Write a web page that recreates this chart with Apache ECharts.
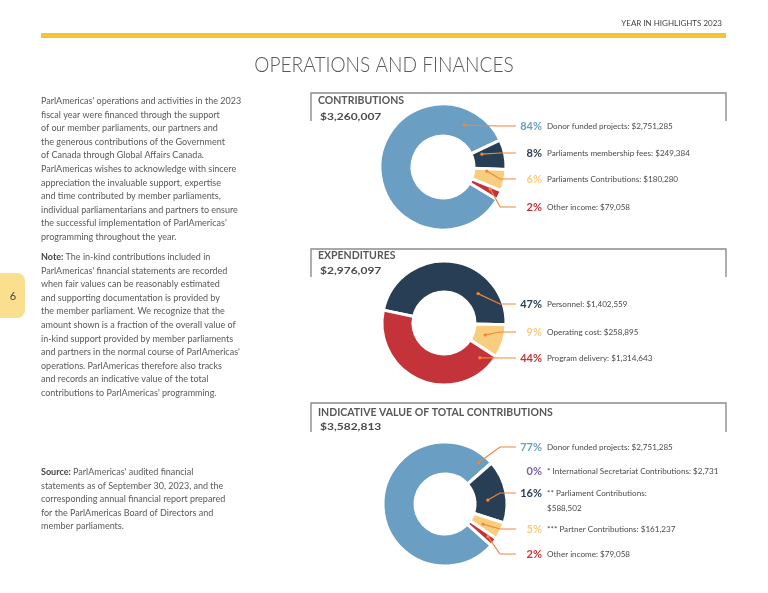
<!DOCTYPE html>
<html>
<head>
<meta charset="utf-8">
<script src="https://cdn.jsdelivr.net/npm/echarts@6/dist/echarts.min.js"></script>
<style>
html,body{margin:0;padding:0;background:#fff;}
#c{width:768px;height:593px;}
</style>
</head>
<body>
<div id="c"></div>
<script>
// ---------------- DATA ----------------
const contribNames = ['Donor funded projects', 'Parliaments membership fees', 'Parliaments Contributions', 'Other income'];
const contribValues = [2751285, 249384, 180280, 79058];

const expNames = ['Personnel', 'Operating cost', 'Program delivery'];
const expValues = [1402559, 258895, 1314643];

const totalNames = ['Donor funded projects', '* International Secretariat Contributions', '** Parliament Contributions', '*** Partner Contributions', 'Other income'];
const totalValues = [2751285, 2731, 588502, 161237, 79058];

const sectionTitles = ['CONTRIBUTIONS', 'EXPENDITURES', 'INDICATIVE VALUE OF TOTAL CONTRIBUTIONS'];

const headerText = 'YEAR IN HIGHLIGHTS 2023';
const pageTitle = 'OPERATIONS AND FINANCES';
const pageNumber = '6';

const para1 = [
  "ParlAmericas' operations and activities in the 2023",
  "fiscal year were financed through the support",
  "of our member parliaments, our partners and",
  "the generous contributions of the Government",
  "of Canada through Global Affairs Canada.",
  "ParlAmericas wishes to acknowledge with sincere",
  "appreciation the invaluable support, expertise",
  "and time contributed by member parliaments,",
  "individual parliamentarians and partners to ensure",
  "the successful implementation of ParlAmericas'",
  "programming throughout the year."
];
const para2 = [
  "{b|Note:} The in-kind contributions included in",
  "ParlAmericas' financial statements are recorded",
  "when fair values can be reasonably estimated",
  "and supporting documentation is provided by",
  "the member parliament. We recognize that the",
  "amount shown is a fraction of the overall value of",
  "in-kind support provided by member parliaments",
  "and partners in the normal course of ParlAmericas'",
  "operations. ParlAmericas therefore also tracks",
  "and records an indicative value of the total",
  "contributions to ParlAmericas' programming."
];
const para3 = [
  "{b|Source:} ParlAmericas' audited financial",
  "statements as of September 30, 2023, and the",
  "corresponding annual financial report prepared",
  "for the ParlAmericas Board of Directors and",
  "member parliaments."
];

// ---------------- STYLE / LAYOUT ----------------
const C_BLUE = '#6A9EC3', C_NAVY = '#273E54', C_YEL = '#F8CD7E', C_RED = '#C5333A', C_PUR = '#7D5FA6';
const LINE_C = '#F0873A';
const TEXT_C = '#58595B';
const FONT = 'Lato, "Open Sans", sans-serif';

const layouts = [
  { values: contribValues, names: contribNames, colors: [C_BLUE, C_NAVY, C_YEL, C_RED],
    center: [443, 167], radius: [31, 63], startAngle: -31,
    labelY: [126, 153, 179, 207],
    anchor: [[0.875, 47], [0.25, 41], [0.15, 44], [0.3, 52]],
    panelTop: 93, panelBottom: 121, titleY: 101, totalY: 117, wrap: [] },
  { values: expValues, names: expNames, colors: [C_NAVY, C_YEL, C_RED],
    center: [444, 323], radius: [31, 62], startAngle: 168,
    labelY: [304, 332, 358],
    anchor: [[0.75, 45], [0.46, 43], [0.07, 50]],
    panelTop: 249, panelBottom: 277, titleY: 256, totalY: 271, wrap: [] },
  { values: totalValues, names: totalNames, colors: [C_BLUE, C_PUR, C_NAVY, C_YEL, C_RED],
    center: [445, 504], radius: [30, 62], startAngle: -42,
    labelY: [447, 471, 493, 529, 554],
    anchor: [[0.965, 53], [0.5, 45], [0.61, 43], [0.62, 43], [0.4, 54]],
    panelTop: 403, panelBottom: 432, titleY: 413, totalY: 427, wrap: [2] }
];

const LABEL_X = 518, PCT_W = 24, LINE_END = 516, LINE_H = 15;

function fmtMoney(v) { return '$' + v.toLocaleString('en-US'); }
function sum(a) { return a.reduce((s, v) => s + v, 0); }

function anchorPoints(L) {
  const total = sum(L.values);
  let acc = 0;
  return L.values.map((v, i) => {
    const a0 = L.startAngle - 360 * acc / total;
    const span = 360 * v / total;
    acc += v;
    const f = L.anchor[i][0], r = L.anchor[i][1];
    const a = (a0 - f * span) * Math.PI / 180;
    return [L.center[0] + r * Math.cos(a), L.center[1] - r * Math.sin(a)];
  });
}

const graphics = [];

// header
graphics.push({ type: 'text', x: 722, y: 23, style: { text: headerText, font: '8px ' + FONT, fill: '#444', align: 'right', verticalAlign: 'middle' } });
graphics.push({ type: 'rect', shape: { x: 41, y: 33, width: 685, height: 5 }, style: { fill: '#F6C331' } });
graphics.push({ type: 'text', x: 384, y: 65, scaleX: 0.89, style: { text: pageTitle, font: '300 21.5px ' + FONT, fill: '#595959', align: 'center', verticalAlign: 'middle' } });

// page tab
graphics.push({ type: 'rect', shape: { x: -10, y: 273, width: 35, height: 45, r: 8 }, style: { fill: '#F9DF8E' } });
graphics.push({ type: 'text', x: 13, y: 296, style: { text: pageNumber, font: '11px ' + FONT, fill: '#444', align: 'center', verticalAlign: 'middle' } });

// paragraphs
function para(lines, yFirst) {
  graphics.push({ type: 'text', x: 41, y: yFirst - 6.8, style: {
    text: lines.join('\n'), font: '9px ' + FONT, fill: TEXT_C, lineHeight: 13.6,
    align: 'left', verticalAlign: 'top',
    rich: { b: { fontWeight: 'bold', fontSize: 9, fontFamily: 'Lato', fill: '#444', lineHeight: 13.6 } }
  } });
}
para(para1, 101);
para(para2, 257);
para(para3, 472);

// panels + titles + totals + label lines + dots
layouts.forEach((L, si) => {
  graphics.push({ type: 'polyline', shape: { points: [[311, L.panelBottom], [311, L.panelTop], [726, L.panelTop], [726, L.panelBottom]] },
    style: { stroke: '#8C8C8C', lineWidth: 1.4, fill: null } });
  graphics.push({ type: 'text', x: 318, y: L.titleY, style: { text: sectionTitles[si], font: 'bold 10.5px ' + FONT, fill: '#585858', verticalAlign: 'middle' } });
  graphics.push({ type: 'text', x: 320, y: L.totalY, scaleX: 1.2, style: { text: fmtMoney(sum(L.values)), font: 'bold 10px ' + FONT, fill: '#4a4a4a', verticalAlign: 'middle' } });
  const pts = anchorPoints(L);
  const total = sum(L.values);
  pts.forEach((p, i) => {
    if (L.values[i] / total * 100 < 1) return;
    const y = L.labelY[i];
    const ex = Math.max(p[0] + 10, 500);
    graphics.push({ type: 'polyline', shape: { points: [[p[0], p[1]], [ex, y], [LINE_END, y]] },
      style: { stroke: LINE_C, lineWidth: 1.2, fill: null }, z: 10 });
    graphics.push({ type: 'circle', shape: { cx: p[0], cy: p[1], r: 1.7 }, style: { fill: LINE_C }, z: 11 });
  });
});

function makeSeries(L) {
  const total = sum(L.values);
  const rich = {
    t: { fontFamily: 'Lato', fontSize: 8.1, color: '#4a4a4a', align: 'right', padding: [0, 0, 0, 5], lineHeight: LINE_H },
    q: { fontFamily: 'Lato', fontSize: 8.1, color: '#4a4a4a', align: 'left', padding: [0, 0, 0, PCT_W + 5], lineHeight: LINE_H }
  };
  L.colors.forEach((c, i) => {
    rich['p' + i] = { fontFamily: 'Lato', fontSize: 11, fontWeight: 'bold', color: c, align: 'right', width: PCT_W, lineHeight: LINE_H };
  });
  return {
    type: 'pie',
    center: L.center,
    radius: L.radius,
    startAngle: L.startAngle,
    clockwise: true,
    avoidLabelOverlap: false,
    silent: true,
    itemStyle: { borderColor: '#ffffff', borderWidth: 3 },
    label: {
      show: true,
      position: 'outside',
      formatter: (p) => {
        const pct = Math.round(p.value / total * 100);
        if (L.wrap.indexOf(p.dataIndex) >= 0) {
          return '{p' + p.dataIndex + '|' + pct + '%}{t|' + p.name + ':}\n{q|' + fmtMoney(p.value) + '}';
        }
        return '{p' + p.dataIndex + '|' + pct + '%}{t|' + p.name + ': ' + fmtMoney(p.value) + '}';
      },
      rich: rich
    },
    labelLine: { show: false },
    labelLayout: (params) => {
      const y = L.labelY[params.dataIndex];
      return { x: LABEL_X, y: y - LINE_H / 2, align: 'left', verticalAlign: 'top' };
    },
    data: L.names.map((n, i) => ({
      name: n,
      value: L.values[i],
      itemStyle: { color: L.colors[i] }
    }))
  };
}

const chart = echarts.init(document.getElementById('c'), null, { renderer: 'canvas' });
chart.setOption({
  animation: false,
  backgroundColor: '#ffffff',
  graphic: graphics,
  series: layouts.map(makeSeries)
});
</script>
</body>
</html>
